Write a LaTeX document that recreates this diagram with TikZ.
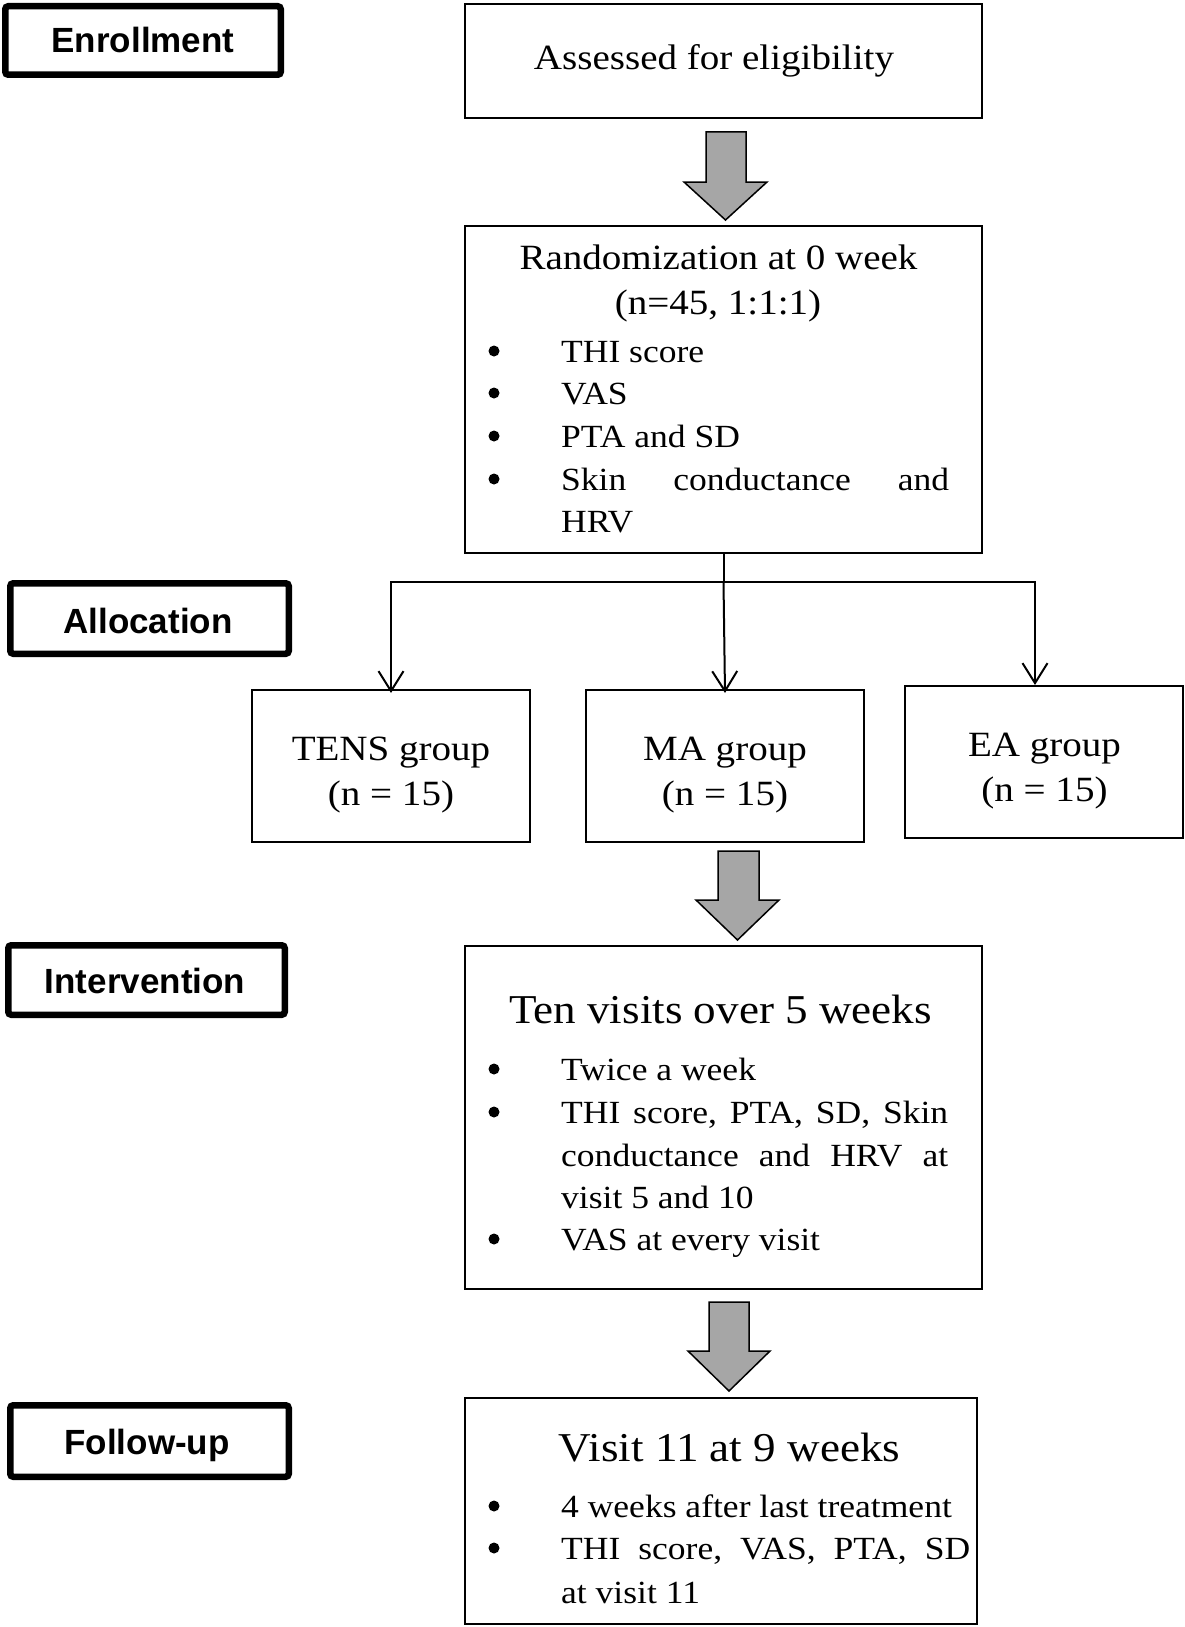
\documentclass[tikz,border=0pt]{standalone}
\usepackage{fontspec}
\setmainfont{Liberation Serif}[FakeStretch=1.1]
\newfontfamily\labfont{Liberation Sans}
\usetikzlibrary{arrows.meta}
\definecolor{arrowgray}{HTML}{A6A6A6}
\newcommand\szTitle{\fontsize{35.5}{40}\selectfont}
\newcommand\szItem{\fontsize{32.3}{38}\selectfont}
\newcommand\szBig{\fontsize{41}{46}\selectfont}
\newcommand\szLab{\labfont\bfseries\fontsize{35}{40}\selectfont}
\tikzset{
  box/.style={draw=black, line width=2pt, inner sep=0pt, rectangle},
  labbox/.style={draw=black, line width=6.5pt, rounded corners=3pt, inner sep=0pt, rectangle},
  labtxt/.style={inner sep=0pt, anchor=base, font=\szLab},
  txtc/.style={inner sep=0pt, anchor=base},
  txtl/.style={inner sep=0pt, anchor=base west, font=\szItem},
  bul/.style={circle, fill=black, draw=none, inner sep=0pt, minimum size=11pt},
  blockarrow/.style={draw=black, line width=1.5pt, fill=arrowgray, line join=miter},
  conn/.style={line width=2pt, -{Straight Barb[length=20pt,width=25pt,line width=2pt]}},
  plain/.style={line width=2pt}
}
\begin{document}
\begin{tikzpicture}[x=1pt,y=-1pt]
\useasboundingbox (0,0) rectangle (1185,1627);
\fill[white] (0,0) rectangle (1185,1627);

% stage labels
\node[labbox, minimum width=275.5pt, minimum height=68.5pt] (enr) at (143,40.5) {};
\node[labtxt] (enrT) at (143,53) {Enrollment};
\node[labbox, minimum width=278.5pt, minimum height=70.5pt] (alloc) at (149.5,618.5) {};
\node[labtxt] (allocT) at (148,633) {Allocation};
\node[labbox, minimum width=276.5pt, minimum height=69.5pt] (interv) at (146.5,980) {};
\node[labtxt] (intervT) at (145,993) {Intervention};
\node[labbox, minimum width=278.5pt, minimum height=71.5pt] (follow) at (149.5,1441) {};
\node[labtxt] (followT) at (147,1454) {Follow-up};

% main boxes
\node[box, minimum width=517pt, minimum height=114pt] (assess) at (723.5,61) {};
\node[box, minimum width=517pt, minimum height=327pt] (rand) at (723.5,389.5) {};
\node[box, minimum width=278pt, minimum height=152pt] (tens) at (391,766) {};
\node[box, minimum width=278pt, minimum height=152pt] (ma) at (725,766) {};
\node[box, minimum width=278pt, minimum height=152pt] (ea) at (1044,762) {};
\node[box, minimum width=517pt, minimum height=343pt] (visits) at (723.5,1117.5) {};
\node[box, minimum width=512pt, minimum height=226pt] (fu) at (721,1511) {};

% texts: assessed
\node[txtc, font=\szTitle] (tAssess) at (714,70) {Assessed for eligibility};

% randomization
\node[txtc, font=\szTitle] (tRand1) at (718.5,269) {Randomization at 0 week};
\node[txtc, font=\szTitle] (tRand2) at (718,314) {(n=45, 1:1:1)};
\node[bul] (rb1) at (494,351) {};
\node[txtl] (ri1) at (561,362) {THI score};
\node[bul] (rb2) at (494,393) {};
\node[txtl] (ri2) at (561,404) {VAS};
\node[bul] (rb3) at (494,436) {};
\node[txtl] (ri3) at (561,447) {PTA and SD};
\node[bul] (rb4) at (494,479) {};
\node[txtl] (ri4) at (561,490) {\hbox to 388pt{Skin\hfill conductance\hfill and}};
\node[txtl] (ri5) at (561,532) {HRV};

% groups
\node[txtc, font=\szTitle] (tTens1) at (391,760) {TENS group};
\node[txtc, font=\szTitle] (tTens2) at (391,805) {(n = 15)};
\node[txtc, font=\szTitle] (tMa1) at (725,760) {MA group};
\node[txtc, font=\szTitle] (tMa2) at (725,805) {(n = 15)};
\node[txtc, font=\szTitle] (tEa1) at (1044.5,756) {EA group};
\node[txtc, font=\szTitle] (tEa2) at (1044.5,801) {(n = 15)};

% intervention
\node[txtc, font=\szBig] (tVis) at (720.5,1023) {Ten visits over 5 weeks};
\node[bul] (vb1) at (494,1069) {};
\node[txtl] (vi1) at (561,1080) {Twice a week};
\node[bul] (vb2) at (494,1112) {};
\node[txtl] (vi2) at (561,1123) {\hbox to 387pt{THI\hfill score,\hfill PTA,\hfill SD,\hfill Skin}};
\node[txtl] (vi3) at (561,1166) {\hbox to 387pt{conductance\hfill and\hfill HRV\hfill at}};
\node[txtl] (vi4) at (561,1208) {visit 5 and 10};
\node[bul] (vb3) at (494,1239) {};
\node[txtl] (vi5) at (561,1250) {VAS at every visit};

% follow-up
\node[txtc, font=\szBig] (tFu) at (729.5,1461) {Visit 11 at 9 weeks};
\node[bul] (fb1) at (494,1506) {};
\node[txtl] (fi1) at (561,1517) {4 weeks after last treatment};
\node[bul] (fb2) at (494,1548) {};
\node[txtl] (fi2) at (561,1559) {\hbox to 409pt{THI\hfill score,\hfill VAS,\hfill PTA,\hfill SD}};
\node[txtl] (fi3) at (561,1603) {at visit 11};

% block arrows
\draw[blockarrow] (706,132) -- (746,132) -- (746,182) -- (767,182) -- (725.5,220) -- (684,182) -- (706,182) -- cycle;
\draw[blockarrow] (718,851) -- (759,851) -- (759,900) -- (779,900) -- (737.5,940) -- (696,900) -- (718,900) -- cycle;
\draw[blockarrow] (709,1302) -- (749,1302) -- (749,1351) -- (770,1351) -- (729,1391) -- (688,1351) -- (709,1351) -- cycle;

% branching connectors
\coordinate (junc) at (723.5,582);
\coordinate (jl) at (391,582);
\coordinate (jr) at (1035,582);
\draw[plain] (rand.south) -- (junc);
\draw[plain, line cap=rect] (jl) -- (jr);
\draw[conn] (jl) -- ([yshift=-4pt]tens.north);
\draw[conn] (junc) -- ([yshift=-4pt]ma.north);
\draw[conn] (jr) -- (jr |- ea.north);
\end{tikzpicture}
\end{document}
